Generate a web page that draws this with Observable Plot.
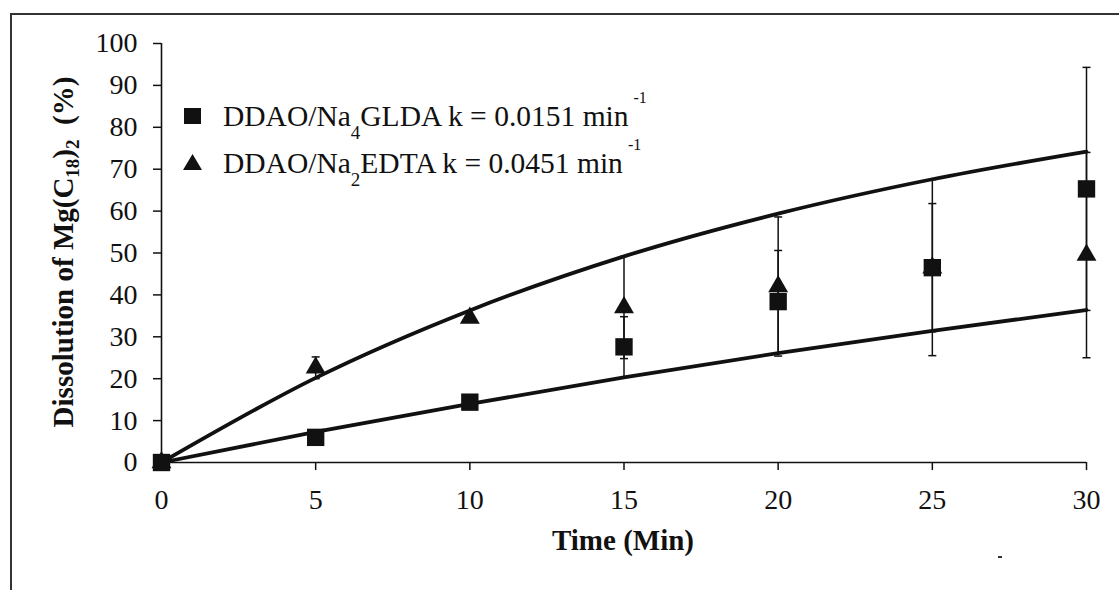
<!DOCTYPE html>
<html>
<head>
<meta charset="utf-8">
<script src="https://cdn.jsdelivr.net/npm/d3@7"></script>
<script src="https://cdn.jsdelivr.net/npm/@observablehq/plot@0.6"></script>
<style>
  html, body { margin: 0; padding: 0; background: #fff; }
  #wrap { position: relative; width: 1119px; height: 590px; overflow: hidden; background: #fff;
          font-family: "Liberation Serif", "Times New Roman", serif; color: #111; }
  #chart { position: absolute; left: 0; top: 0; }
  #frame { position: absolute; left: 10px; top: 13px; right: -5px; bottom: -5px;
           border-top: 2px solid #333; border-left: 2px solid #333; }
  .leg { position: absolute; left: 183px; font-size: 29.5px; line-height: 30px; white-space: nowrap; }
  .leg svg { position: absolute; left: 0; top: 0; overflow: visible; }
  .leg .txt { position: absolute; left: 40px; top: 0; }
  .sub { font-size: 19px; position: relative; top: 13px; }
  .sup { font-size: 16px; position: relative; top: -23px; margin-left: 5px; }
  #ytitle { position: absolute; width: 420px; height: 34px; line-height: 34px; text-align: center;
            left: -147px; top: 235px; transform: rotate(-90deg); font-weight: bold; font-size: 29px;
            white-space: nowrap; }
  #ytitle .ys { font-size: 19px; position: relative; top: 6px; }
  #xtitle { position: absolute; left: 423px; width: 400px; text-align: center; top: 523px;
            font-weight: bold; font-size: 29px; line-height: 34px; }
  #speck { position: absolute; left: 998px; top: 556px; width: 4px; height: 2px; background: #333; }
</style>
</head>
<body>
<div id="wrap">
  <div id="chart"></div>
  <div id="frame"></div>
  <div class="leg" style="top:101px">
    <svg width="20" height="30"><rect x="1" y="7" width="17" height="16" fill="#111"></rect></svg>
    <span class="txt">DDAO/Na<span class="sub">4</span>GLDA k = 0.0151 min<span class="sup">-1</span></span>
  </div>
  <div class="leg" style="top:148px">
    <svg width="20" height="30"><path d="M9.5,6 L19,22 L0,22 Z" fill="#111"></path></svg>
    <span class="txt">DDAO/Na<span class="sub">2</span>EDTA k = 0.0451 min<span class="sup">-1</span></span>
  </div>
  <div id="ytitle">Dissolution of Mg(C<span class="ys">18</span>)<span class="ys">2</span>&nbsp; (%)</div>
  <div id="xtitle">Time (Min)</div>
  <div id="speck"></div>
</div>
<script>
// ---- data ----
const time = [0, 5, 10, 15, 20, 25, 30];
const gldaMean = [0, 6.0, 14.4, 27.6, 38.4, 46.5, 65.3];
const gldaErr  = [0, 0.6, 0.8, 7.2, 12.2, 21.0, 29.0];
const edtaMean = [0, 22.6, 34.5, 37.0, 42.0, 46.5, 49.5];
const edtaErr  = [0, 2.6, 0.6, 12.2, 16.6, 15.3, 24.5];
const gldaFit  = [0, 7.3, 14.0, 20.3, 26.1, 31.4, 36.4];
const edtaFit  = [0, 20.2, 36.3, 49.2, 59.4, 67.6, 74.2];
const xTicks = [0, 5, 10, 15, 20, 25, 30];
const yTicks = [0, 10, 20, 30, 40, 50, 60, 70, 80, 90, 100];

const glda = time.map((t, i) => ({t, y: gldaMean[i], lo: gldaMean[i] - gldaErr[i], hi: gldaMean[i] + gldaErr[i], fit: gldaFit[i]}));
const edta = time.map((t, i) => ({t, y: edtaMean[i], lo: edtaMean[i] - edtaErr[i], hi: edtaMean[i] + edtaErr[i], fit: edtaFit[i]}));
const bars = [...glda, ...edta].filter(d => d.hi > d.lo);
const caps = bars.flatMap(d => [{t: d.t, v: d.lo}, {t: d.t, v: d.hi}]);

const capSymbol = {
  draw(context, size) {
    const w = Math.sqrt(size / Math.PI);
    context.moveTo(-w, 0);
    context.lineTo(w, 0);
  }
};

const ink = "#111";
const chart = Plot.plot({
  width: 1119,
  height: 590,
  marginLeft: 161,
  marginRight: 33,
  marginTop: 43,
  marginBottom: 128,
  x: {domain: [0, 30]},
  y: {domain: [0, 100]},
  style: {fontFamily: "'Liberation Serif', 'Times New Roman', serif", fontSize: "28px", color: ink, background: "transparent", overflow: "visible"},
  marks: [
    Plot.axisX({ticks: xTicks, tickSize: 8, tickPadding: 19, label: null, strokeWidth: 1.5}),
    Plot.axisY({ticks: yTicks, tickSize: 8, tickPadding: 16, label: null, strokeWidth: 1.5}),
    Plot.ruleY([0], {stroke: ink, strokeWidth: 1.6}),
    Plot.ruleX([0], {y1: 0, y2: 100, stroke: ink, strokeWidth: 1.6}),
    Plot.ruleX(bars, {x: "t", y1: "lo", y2: "hi", stroke: ink, strokeWidth: 1.5}),
    Plot.dot(caps, {x: "t", y: "v", symbol: capSymbol, r: 4, stroke: ink, strokeWidth: 1.5, fill: "none"}),
    Plot.line(glda, {x: "t", y: "fit", curve: "monotone-x", stroke: ink, strokeWidth: 3.8}),
    Plot.line(edta, {x: "t", y: "fit", curve: "monotone-x", stroke: ink, strokeWidth: 3.8}),
    Plot.dot(edta, {x: "t", y: "y", symbol: "triangle", r: 7.4, fill: ink, stroke: "none"}),
    Plot.dot(glda, {x: "t", y: "y", symbol: "square", r: 9.8, fill: ink, stroke: "none"})
  ]
});
document.getElementById("chart").appendChild(chart);
</script>
</body>
</html>
